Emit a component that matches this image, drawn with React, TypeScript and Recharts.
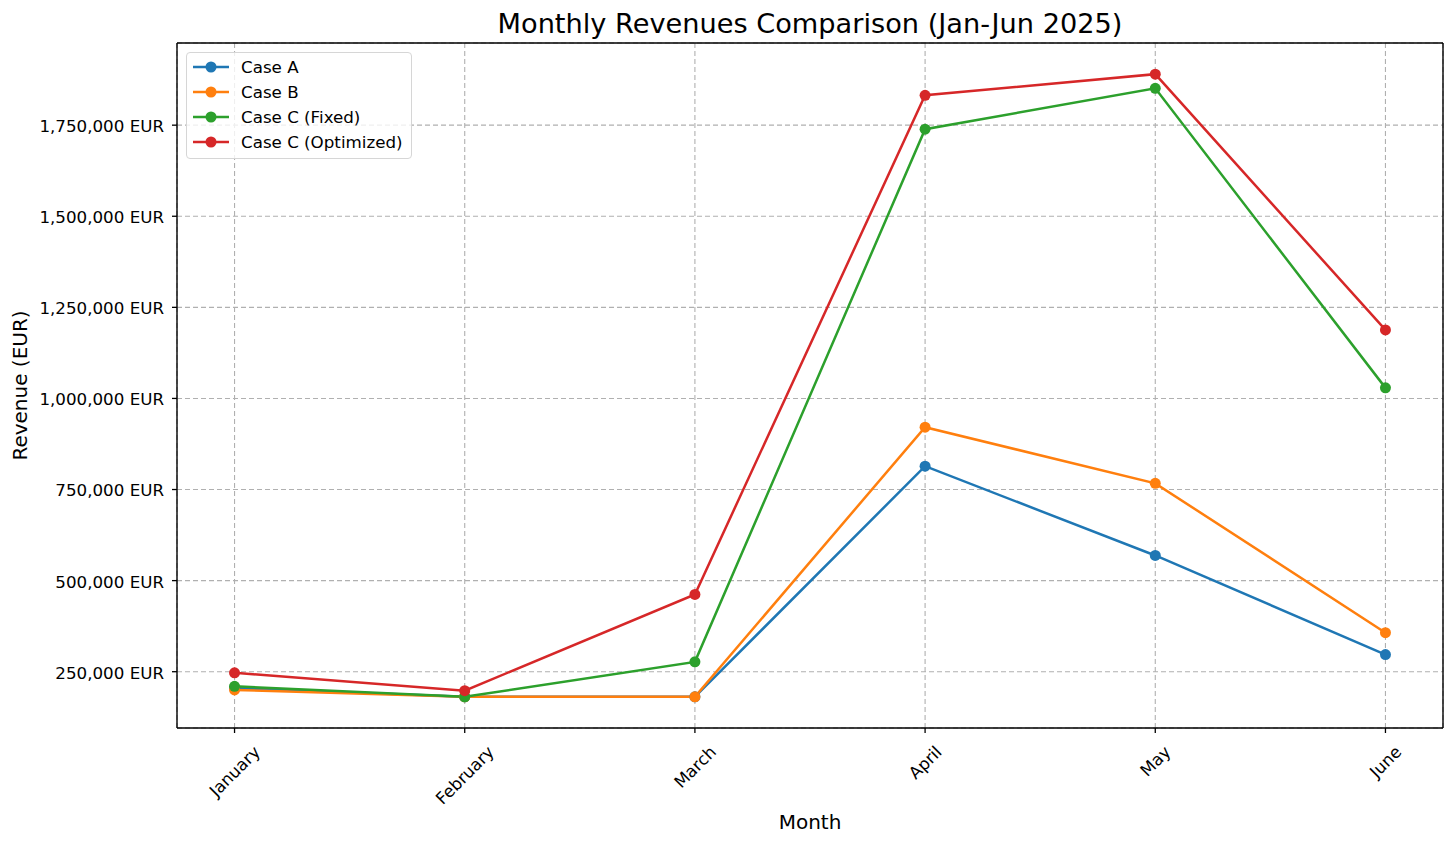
import React from 'react';
import { LineChart, Line, XAxis, YAxis, CartesianGrid, Legend, Label, ReferenceLine } from 'recharts';

const months = ['January', 'February', 'March', 'April', 'May', 'June'];
const caseA = [205000, 181000, 181000, 814000, 569000, 297000];
const caseB = [200000, 181000, 181000, 921000, 767000, 357000];
const caseCFixed = [210000, 181000, 277000, 1739000, 1851000, 1029000];
const caseCOptimized = [247000, 198000, 462000, 1832000, 1890000, 1188000];
const yTicks = [250000, 500000, 750000, 1000000, 1250000, 1500000, 1750000];

const series = [
  { key: 'caseA', name: 'Case A', color: '#1f77b4' },
  { key: 'caseB', name: 'Case B', color: '#ff7f0e' },
  { key: 'caseCFixed', name: 'Case C (Fixed)', color: '#2ca02c' },
  { key: 'caseCOptimized', name: 'Case C (Optimized)', color: '#d62728' },
];

const data = months.map((m, i) => ({
  idx: i,
  month: m,
  caseA: caseA[i],
  caseB: caseB[i],
  caseCFixed: caseCFixed[i],
  caseCOptimized: caseCOptimized[i],
}));

const FONT = '"DejaVu Sans", sans-serif';
const TICK_SIZE = 16.7;
const X_DOMAIN: [number, number] = [-0.25, 5.25];
const Y_DOMAIN: [number, number] = [95500, 1975500];

let measureCtx: CanvasRenderingContext2D | null = null;
function textWidth(s: string, size: number) {
  if (!measureCtx) measureCtx = document.createElement('canvas').getContext('2d');
  if (!measureCtx) return s.length * size * 0.6;
  measureCtx.font = `${size}px "DejaVu Sans"`;
  return measureCtx.measureText(s).width;
}

// matplotlib-style rotation=45, ha=center: rotated box centred on the tick
const MonthTick = (props: any) => {
  const { x, y, payload } = props;
  const label = months[payload.value] ?? '';
  const w = textWidth(label, TICK_SIZE);
  const h = TICK_SIZE * 1.16;
  const cy = y + ((w + h) * Math.SQRT1_2) / 2;
  return (
    <text
      x={x}
      y={cy}
      textAnchor="middle"
      dominantBaseline="central"
      transform={`rotate(-45, ${x}, ${cy})`}
      fontFamily={FONT}
      fontSize={TICK_SIZE}
      fill="#000"
    >
      {label}
    </text>
  );
};

const renderLegend = () => (
  <div
    style={{
      background: 'rgba(255,255,255,0.8)',
      border: '1px solid #d6d6d6',
      borderRadius: 4,
      padding: '1px 8px 4px 5px',
      fontFamily: FONT,
      fontSize: TICK_SIZE,
      color: '#000',
    }}
  >
    {series.map((s) => (
      <div key={s.key} style={{ display: 'flex', alignItems: 'center', height: 25 }}>
        <svg width={38} height={12} style={{ display: 'block' }}>
          <line x1={1} y1={6} x2={37} y2={6} stroke={s.color} strokeWidth={2.5} />
          <circle cx={19} cy={6} r={5.5} fill={s.color} />
        </svg>
        <span style={{ marginLeft: 11, whiteSpace: 'nowrap' }}>{s.name}</span>
      </div>
    ))}
  </div>
);

export default function App() {
  return (
    <div style={{ position: 'relative', width: 1456, height: 844, background: '#fff' }}>
      <style>{'body{margin:0}'}</style>
      <div
        style={{
          position: 'absolute',
          left: 177,
          width: 1266,
          top: 8,
          textAlign: 'center',
          fontFamily: FONT,
          fontSize: 27.2,
          color: '#000',
          whiteSpace: 'nowrap',
        }}
      >
        Monthly Revenues Comparison (Jan-Jun 2025)
      </div>
      <LineChart width={1456} height={844} data={data} margin={{ top: 43, right: 13, bottom: 0, left: 0 }}>
        <CartesianGrid stroke="#b0b0b0" strokeDasharray="5 3" strokeWidth={1.1} />
        <XAxis
          dataKey="idx"
          type="number"
          domain={X_DOMAIN}
          ticks={[0, 1, 2, 3, 4, 5]}
          allowDataOverflow
          height={116}
          interval={0}
          tick={<MonthTick />}
          tickSize={5}
          tickMargin={9}
          tickLine={{ stroke: '#000', strokeWidth: 1.3 }}
          axisLine={{ stroke: '#000', strokeWidth: 1.4 }}
        >
          <Label
            content={(p: any) => (
              <text
                x={p.viewBox.x + p.viewBox.width / 2}
                y={p.viewBox.y + 94}
                textAnchor="middle"
                dominantBaseline="central"
                fontFamily={FONT}
                fontSize={20}
                fill="#000"
              >
                Month
              </text>
            )}
          />
        </XAxis>
        <YAxis
          type="number"
          domain={Y_DOMAIN}
          ticks={yTicks}
          allowDataOverflow
          width={177}
          tickFormatter={(v: number) => `${v.toLocaleString('en-US')} EUR`}
          tick={{ fontFamily: FONT, fontSize: TICK_SIZE, fill: '#000', dy: 1 }}
          tickSize={5}
          tickMargin={8}
          tickLine={{ stroke: '#000', strokeWidth: 1.3 }}
          axisLine={{ stroke: '#000', strokeWidth: 1.4 }}
        >
          <Label
            content={(p: any) => (
              <text
                x={20}
                y={p.viewBox.y + p.viewBox.height / 2}
                textAnchor="middle"
                dominantBaseline="central"
                transform={`rotate(-90, 20, ${p.viewBox.y + p.viewBox.height / 2})`}
                fontFamily={FONT}
                fontSize={20}
                fill="#000"
              >
                Revenue (EUR)
              </text>
            )}
          />
        </YAxis>
        {/* top and right spines */}
        <ReferenceLine x={X_DOMAIN[1]} stroke="#000" strokeWidth={1.4} ifOverflow="visible" />
        <ReferenceLine y={Y_DOMAIN[1]} stroke="#000" strokeWidth={1.4} ifOverflow="visible" />
        <Legend
          layout="vertical"
          align="center"
          verticalAlign="middle"
          content={renderLegend}
          wrapperStyle={{ left: 186, top: 52, width: 'auto', height: 'auto' }}
        />
        {series.map((s) => (
          <Line
            key={s.key}
            type="linear"
            dataKey={s.key}
            name={s.name}
            stroke={s.color}
            strokeWidth={2.5}
            dot={{ r: 5.5, fill: s.color, stroke: s.color, strokeWidth: 0 }}
            activeDot={false}
            isAnimationActive={false}
          />
        ))}
      </LineChart>
    </div>
  );
}
